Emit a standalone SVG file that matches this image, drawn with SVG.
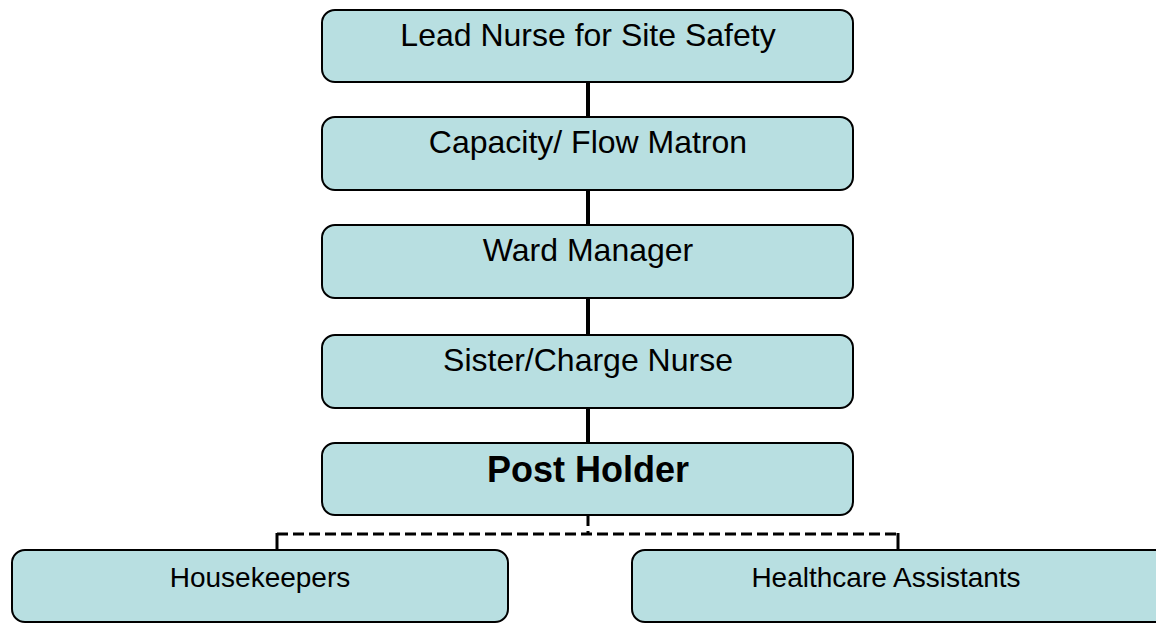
<svg xmlns="http://www.w3.org/2000/svg" width="1156" height="623" viewBox="0 0 1156 623">
<style>
.box{fill:#b8dfe1;stroke:#000;stroke-width:2}
.t{font-family:"Liberation Sans",Arial,sans-serif;font-size:32px;fill:#000;text-anchor:middle}
.s{font-size:28px}
.b{font-weight:bold;font-size:36px}
.solid{stroke:#000;stroke-width:4;fill:none}
.dash{stroke:#000;stroke-width:3;fill:none;stroke-dasharray:11 5}
</style>
<rect width="1156" height="623" fill="#fff"/>
<g id="connectors">
<line class="solid" x1="588" y1="82" x2="588" y2="117"/>
<line class="solid" x1="588" y1="190" x2="588" y2="225"/>
<line class="solid" x1="588" y1="298" x2="588" y2="335"/>
<line class="solid" x1="588" y1="408" x2="588" y2="443"/>
<line class="dash" x1="588" y1="515" x2="588" y2="534"/>
<path class="dash" d="M277 534 H898"/>
<line stroke="#000" stroke-width="3" x1="277" y1="533" x2="277" y2="550"/>
<line stroke="#000" stroke-width="3" x1="898" y1="533" x2="898" y2="550"/>
</g>
<g id="lead"><rect class="box" x="322" y="10" width="531" height="72" rx="13"/><text class="t" x="588" y="46">Lead Nurse for Site Safety</text></g>
<g id="capacity"><rect class="box" x="322" y="117" width="531" height="73" rx="13"/><text class="t" x="588" y="153">Capacity/ Flow Matron</text></g>
<g id="ward"><rect class="box" x="322" y="225" width="531" height="73" rx="13"/><text class="t" x="588" y="261">Ward Manager</text></g>
<g id="sister"><rect class="box" x="322" y="335" width="531" height="73" rx="13"/><text class="t" x="588" y="371">Sister/Charge Nurse</text></g>
<g id="post"><rect class="box" x="322" y="443" width="531" height="72" rx="13"/><text class="t b" x="588" y="482">Post Holder</text></g>
<g id="housekeepers"><rect class="box" x="12" y="550" width="496" height="72" rx="13"/><text class="t s" x="260" y="587">Housekeepers</text></g>
<g id="hca"><rect class="box" x="632" y="550" width="536" height="72" rx="13"/><text class="t s" x="886" y="587">Healthcare Assistants</text></g>
</svg>
